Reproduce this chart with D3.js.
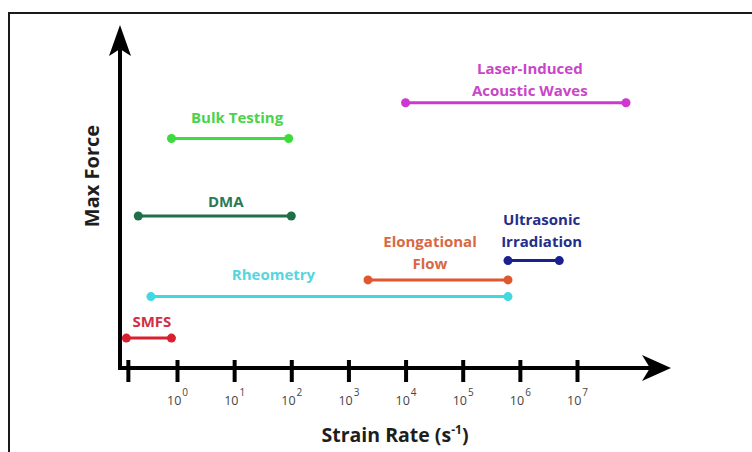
<!DOCTYPE html>
<html>
<head>
<meta charset="utf-8">
<script src="https://cdn.jsdelivr.net/npm/d3@7"></script>
<style>
  body { margin: 0; background: #fff; }
  svg { display: block; }
  .lbl { font-family: "Open Sans", sans-serif; font-weight: 700; }
</style>
</head>
<body>
<svg id="chart" width="752" height="452"></svg>
<script>
// techniques, strain rate ranges (s^-1) and the max force level (arbitrary units)
const techniques = ["Laser-Induced Acoustic Waves", "Bulk Testing", "DMA", "Ultrasonic Irradiation",
    "Elongational Flow", "Rheometry", "SMFS"];
const rateLow = [1e4, 0.8, 0.21, 6.2e5, 2.2e3, 0.35, 0.13];
const rateHigh = [7.2e7, 90, 100, 4.9e6, 6.2e5, 6.2e5, 0.8];
const maxForce = [78, 67.5, 44.7, 31.6, 25.9, 21, 8.8];
const labelLines = [["Laser-Induced", "Acoustic Waves"], ["Bulk Testing"], ["DMA"], ["Ultrasonic", "Irradiation"],
    ["Elongational", "Flow"], ["Rheometry"], ["SMFS"]];
const tickExp = [0, 1, 2, 3, 4, 5, 6, 7];

// styling / layout only
const lineColors = ["#cf38cf", "#3ddc3d", "#1f7049", "#1b1f8f", "#e0562e", "#40d9e2", "#d9202f"];
const textColors = ["#c846c8", "#4bd24b", "#2b7a57", "#232e8a", "#d86843", "#55d6df", "#cf3044"];
const labelDx = [14, 7, 11, 8, -8, -56, 3];   // label centre offset from segment middle
const labelDy = [-29, -16, -9, -36, -33, -17, -11];

const svg = d3.select("#chart");

// frame
svg.append("path")
    .attr("d", "M9,452V13H752")
    .attr("fill", "none")
    .attr("stroke", "#1a1a1a")
    .attr("stroke-width", 2);

const x = d3.scaleLog().domain([1, 1e7]).range([177, 577]);
const y = d3.scaleLinear().domain([0, 100]).range([368, 28]);

const x0 = 120, y0 = y(0);

// y axis + arrow
svg.append("line")
    .attr("x1", x0).attr("x2", x0)
    .attr("y1", y0 + 2).attr("y2", 45)
    .attr("stroke", "#000").attr("stroke-width", 4);
svg.append("path")
    .attr("d", `M${x0},25 L${x0 + 11},56 L${x0},49 L${x0 - 11},56 Z`)
    .attr("fill", "#000");

// x axis + arrow
svg.append("line")
    .attr("x1", x0 - 2).attr("x2", 655)
    .attr("y1", y0).attr("y2", y0)
    .attr("stroke", "#000").attr("stroke-width", 4);
svg.append("path")
    .attr("d", `M671,${y0} L642,${y0 - 13} L650,${y0} L642,${y0 + 13} Z`)
    .attr("fill", "#000");

// ticks via d3 axis
const axis = d3.axisBottom(x)
    .tickValues([Math.pow(10, -0.86)].concat(tickExp.map(e => Math.pow(10, e))))
    .tickSize(14)
    .tickFormat("");
const gx = svg.append("g")
    .attr("transform", `translate(0,${y0})`)
    .call(axis);
gx.select(".domain").remove();
gx.selectAll(".tick line")
    .attr("y1", -8)
    .attr("stroke", "#000")
    .attr("stroke-width", 4);

// tick labels 10^n
const tl = svg.append("g").selectAll("text")
    .data(tickExp)
    .join("text")
    .attr("x", d => x(Math.pow(10, d)) - 10)
    .attr("y", 405)
    .attr("fill", "#444")
    .style("font-family", "'Open Sans', sans-serif")
    .style("font-size", "12.5px");
tl.append("tspan").text("10");
tl.append("tspan")
    .attr("dy", -9)
    .attr("dx", 1)
    .style("font-size", "10px")
    .text(d => d);

// axis titles
const xt = svg.append("text")
    .attr("class", "lbl")
    .attr("x", 395)
    .attr("y", 442)
    .attr("text-anchor", "middle")
    .attr("fill", "#1e1e1e")
    .style("font-size", "19.5px");
xt.append("tspan").text("Strain Rate (s");
xt.append("tspan").attr("dy", -8).style("font-size", "12px").text("-1");
xt.append("tspan").attr("dy", 8).text(")");

svg.append("text")
    .attr("class", "lbl")
    .attr("transform", "translate(99,176) rotate(-90)")
    .attr("text-anchor", "middle")
    .attr("fill", "#1e1e1e")
    .style("font-size", "20px")
    .text("Max Force");

// ranges
const rows = techniques.map((t, i) => ({
    name: t, lo: rateLow[i], hi: rateHigh[i], f: maxForce[i], i: i
}));

const g = svg.append("g");
g.selectAll("line.range")
    .data(rows)
    .join("line")
    .attr("class", "range")
    .attr("x1", d => x(d.lo)).attr("x2", d => x(d.hi))
    .attr("y1", d => y(d.f)).attr("y2", d => y(d.f))
    .attr("stroke", d => lineColors[d.i])
    .attr("stroke-width", 3);

g.selectAll("circle.lo")
    .data(rows)
    .join("circle")
    .attr("class", "lo")
    .attr("cx", d => x(d.lo)).attr("cy", d => y(d.f))
    .attr("r", 4.5)
    .attr("fill", d => lineColors[d.i]);
g.selectAll("circle.hi")
    .data(rows)
    .join("circle")
    .attr("class", "hi")
    .attr("cx", d => x(d.hi)).attr("cy", d => y(d.f))
    .attr("r", 4.5)
    .attr("fill", d => lineColors[d.i]);

// labels
const labels = g.selectAll("text.name")
    .data(rows)
    .join("text")
    .attr("class", "name lbl")
    .attr("text-anchor", "middle")
    .attr("fill", d => textColors[d.i])
    .style("font-size", "15px")
    .attr("transform", d => {
        const cx = (x(d.lo) + x(d.hi)) / 2 + labelDx[d.i];
        return `translate(${cx},${y(d.f) + labelDy[d.i]})`;
    });
labels.selectAll("tspan")
    .data(d => labelLines[d.i])
    .join("tspan")
    .attr("x", 0)
    .attr("dy", (d, j) => j === 0 ? 0 : 22)
    .text(d => d);
</script>
</body>
</html>
